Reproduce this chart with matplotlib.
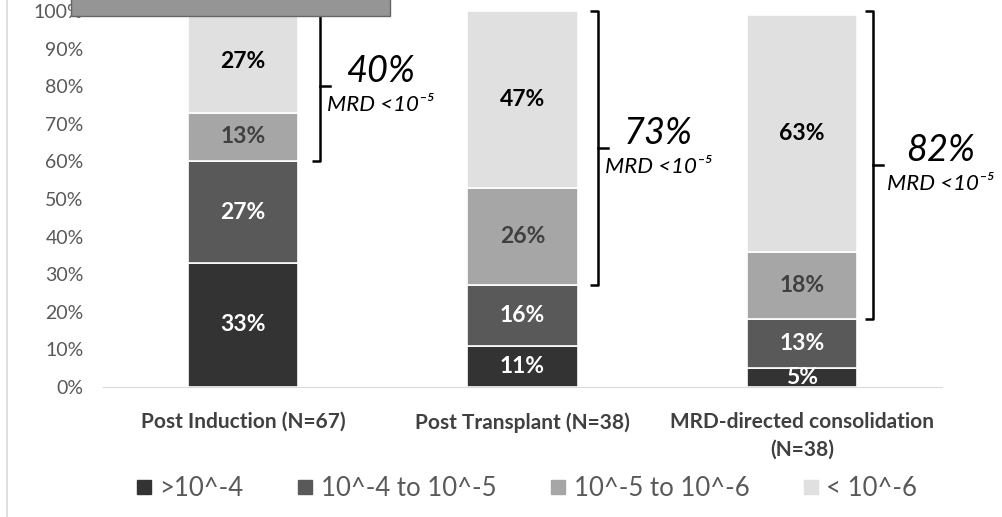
import numpy as np
import matplotlib.pyplot as plt
from matplotlib.patches import Rectangle
from matplotlib.lines import Line2D

plt.rcParams["font.family"] = ["Lato", "DejaVu Sans"]

categories = ["Post Induction (N=67)", "Post Transplant (N=38)",
              "MRD-directed consolidation\n(N=38)"]
series = [">10^-4", "10^-4 to 10^-5", "10^-5 to 10^-6", "< 10^-6"]
above_1e4 = [33, 11, 5]
e4_to_e5 = [27, 16, 13]
e5_to_e6 = [13, 26, 18]
below_1e6 = [27, 47, 63]
mrd_neg = [40, 73, 82]  # share below 10^-5

colors = ["#333333", "#595959", "#a6a6a6", "#e0e0e0"]
label_colors = ["white", "white", "#404040", "black"]

fig = plt.figure(figsize=(10.02, 5.17), dpi=100)
ax = fig.add_axes([0.1028, 0.2515, 0.8372, 0.7272])

x = np.arange(len(categories))
width = 0.395
bottom = np.zeros(len(categories))
for vals, c, lc in zip([above_1e4, e4_to_e5, e5_to_e6, below_1e6], colors, label_colors):
    vals = np.array(vals, dtype=float)
    ax.bar(x, vals, width, bottom=bottom, color=c, edgecolor="white", linewidth=1.2)
    for xi, b, v in zip(x, bottom, vals):
        ax.text(xi, b + v / 2, f"{v:.0f}%", ha="center", va="center",
                fontsize=16.5, fontweight="bold", color=lc)
    bottom += vals

ax.set_xlim(-0.5, 2.5)
ax.set_ylim(0, 100)
ax.set_yticks(np.arange(0, 101, 10))
ax.set_yticklabels([f"{v}%" for v in range(0, 101, 10)], fontsize=14, color="#595959")
ax.set_xticks(x)
ax.set_xticklabels(categories, fontsize=15, fontweight="bold", color="#404040",
                   linespacing=1.45)
ax.tick_params(axis="y", length=0, pad=14)
ax.tick_params(axis="x", length=0, pad=18)
for s in ["top", "right", "left"]:
    ax.spines[s].set_visible(False)
ax.spines["bottom"].set_color("#d9d9d9")

# brackets marking MRD < 10^-5 portion
bx = [0.276, 1.27, 2.255]
text_dx = [0.215, 0.215, 0.24]
for xb, dx, pct in zip(bx, text_dx, mrd_neg):
    lo = 100 - pct
    mid = (lo + 100) / 2
    ax.plot([xb - 0.03, xb, xb, xb - 0.03], [100, 100, lo, lo], color="black", lw=1.8,
            clip_on=False, solid_capstyle="butt")
    ax.plot([xb, xb + 0.035], [mid, mid], color="black", lw=1.8, clip_on=False)
    tx = xb + dx
    ax.text(tx, mid + 4, f"{pct}%", ha="center", va="center", fontsize=26,
            style="italic", clip_on=False)
    ax.text(tx, mid - 5, "MRD <10⁻⁵", ha="center", va="center", fontsize=16,
            style="italic", clip_on=False)

# legend
handles = [Line2D([], [], marker="s", linestyle="none", markersize=10.5,
                  markerfacecolor=c, markeredgecolor=c) for c in colors]
fig.legend(handles, series, ncol=4, loc="center", bbox_to_anchor=(0.522, 0.056),
           frameon=False, fontsize=18.5, labelcolor="#595959", handletextpad=0.0,
           columnspacing=1.8, handlelength=1.2)

# box across the top and the frame line on the left
fig.patches.append(Rectangle((0.071, 0.969), 0.318, 0.05, transform=fig.transFigure,
                             facecolor="#959595", edgecolor="#666666", lw=1))
fig.lines.append(Line2D([0.007, 0.007], [0.0, 1.0], transform=fig.transFigure,
                        color="#d9d9d9", lw=1.2))

fig.savefig("out.png", dpi=100)
